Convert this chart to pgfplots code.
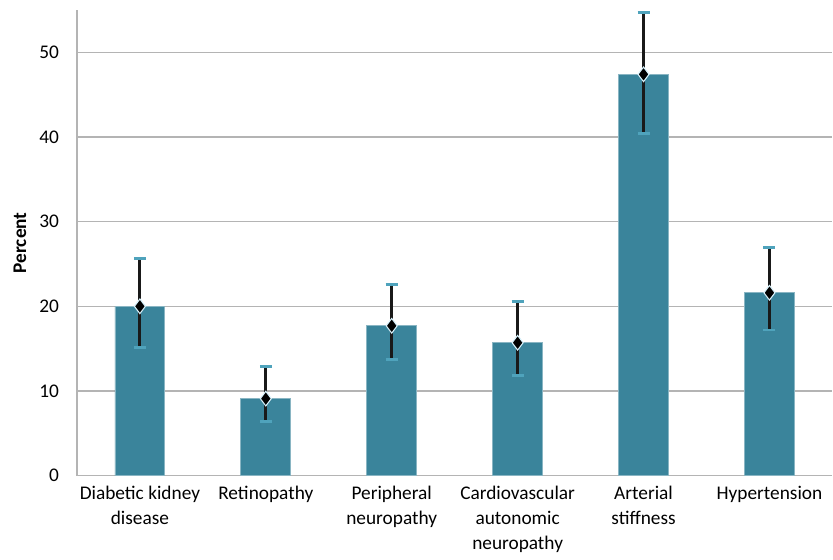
\documentclass[border=0pt]{standalone}
\usepackage{pgfplots}
\pgfplotsset{compat=1.18}
\usepackage{pgfplotstable}
\usepackage{fontspec}
\setmainfont{Carlito}
\definecolor{barc}{HTML}{3A849B}
\definecolor{capc}{HTML}{4FA3BC}
\definecolor{gridc}{HTML}{B4B4B4}
\pgfplotstableread{
x y ep em
0 20.0 5.7 4.9
1 9.1 3.75 2.7
2 17.7 4.9 4.0
3 15.7 4.9 3.9
4 47.4 7.3 7.0
5 21.6 5.3 4.4
}\data
\begin{document}
\fontsize{14.5}{18.75}\selectfont
\begin{tikzpicture}
\begin{axis}[
  scale only axis,
  width=567pt, height=349.5pt,
  xmin=-0.5, xmax=5.5,
  ymin=0, ymax=55,
  axis x line=bottom, axis y line=left,
  axis line style={draw=gridc, line width=0.9pt, -},
  ytick={0,10,20,30,40,50},
  xtick={0,1,2,3,4,5},
  xticklabels={{Diabetic kidney\\disease}, Retinopathy, {Peripheral\\neuropathy}, {Cardiovascular\\autonomic\\neuropathy}, {Arterial\\stiffness}, Hypertension},
  xticklabel style={align=center, font=\fontsize{14.5}{18.75}\selectfont, yshift=-3pt},
  yticklabel style={font=\fontsize{14.5}{18.75}\selectfont, xshift=-8.5pt},
  major tick length=0pt,
  ymajorgrids, grid style={gridc, line width=0.9pt},
  /pgf/number format/assume math mode=true,
  ylabel={\textbf{Percent}},
  ylabel style={font=\fontsize{14.5}{18.75}\selectfont, at={(axis description cs:0,0.5)}, anchor=center, yshift=42.75pt},
  clip=false,
  after end axis/.code={
    \path (rel axis cs:0,1) ++(-57.75pt,7.5pt) coordinate (tl);
    \path (tl) -- ++(1pt,0);
  },
]
\addplot[ybar, bar width=37.5pt, fill=barc, draw=barc!60!white, line width=0.6pt] table[x=x,y=y]{\data};
\addplot[only marks, mark=diamond*, mark size=5.5pt, mark options={fill=black, draw=white!85!cyan, line width=0.8pt},
  error bars/.cd, y dir=both, y explicit,
  error bar style={line width=2.2pt, black!90},
  error mark=|, error mark options={line width=2.2pt, color=capc, mark size=4.5pt}]
  table[x=x, y=y, y error plus=ep, y error minus=em]{\data};
\end{axis}
\end{tikzpicture}
\end{document}
